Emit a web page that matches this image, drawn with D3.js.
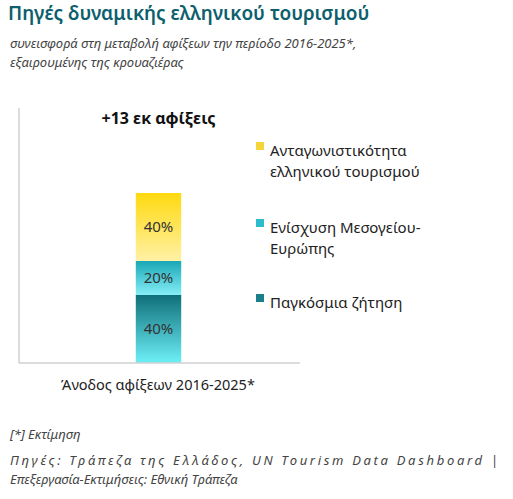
<!DOCTYPE html>
<html><head><meta charset="utf-8">
<script src="https://cdn.jsdelivr.net/npm/d3@7"></script>
<style>
body{margin:0;background:#fff;font-family:"Noto Sans",sans-serif;}
</style></head><body>
<svg id="chart" width="513" height="499"></svg>
<script>
let categories=["Άνοδος αφίξεων 2016-2025*"];
let seriesNames=["Παγκόσμια ζήτηση","Ενίσχυση Μεσογείου-Ευρώπης","Ανταγωνιστικότητα ελληνικού τουρισμού"];
let seriesValues=[40,20,40];
let legendLines=[["Παγκόσμια ζήτηση"],["Ενίσχυση Μεσογείου-","Ευρώπης"],["Ανταγωνιστικότητα","ελληνικού τουρισμού"]];
let grads=[["#0f6f79","#6ef0f8"],["#1aa7b6","#85eef6"],["#ffd90f","#fff1a6"]];
let legendColors=["#1a7f8a","#2cbccb","#f5d63a"];

(function(){
let svg=d3.select("#chart");
let defs=svg.append("defs");
grads.forEach(function(g,i){
  let lg=defs.append("linearGradient").attr("id","g"+i).attr("x1",0).attr("x2",0).attr("y1",0).attr("y2",1);
  lg.append("stop").attr("offset","0%").attr("stop-color",g[0]);
  lg.append("stop").attr("offset","100%").attr("stop-color",g[1]);
});
svg.append("text").attr("x",8).attr("y",20).attr("fill","#0d5f6e").attr("font-size",19).attr("font-weight",600).text("Πηγές δυναμικής ελληνικού τουρισμού");
svg.append("text").attr("x",10).attr("y",48).attr("fill","#444").attr("font-size",13).attr("font-style","italic").text("συνεισφορά στη μεταβολή αφίξεων την περίοδο 2016-2025*,");
svg.append("text").attr("x",10).attr("y",67).attr("fill","#444").attr("font-size",13).attr("font-style","italic").text("εξαιρουμένης της κρουαζιέρας");

let pLeft=19,pRight=300,pTop=108,pBottom=363;
let x=d3.scaleBand().domain(categories).range([pLeft,pRight-2]).padding(0.72);
let y=d3.scaleLinear().domain([0,150]).range([pBottom,pTop]);
let stack=[];let acc=0;
seriesValues.forEach(function(v,i){stack.push({i:i,y0:acc,y1:acc+v});acc+=v;});
svg.append("g").selectAll("rect").data(stack).join("rect")
  .attr("x",x(categories[0])).attr("width",x.bandwidth())
  .attr("y",d=>y(d.y1)).attr("height",d=>y(d.y0)-y(d.y1))
  .attr("fill",d=>"url(#g"+d.i+")");
svg.append("g").selectAll("text").data(stack).join("text")
  .attr("x",x(categories[0])+x.bandwidth()/2).attr("y",d=>y((d.y0+d.y1)/2)+5)
  .attr("text-anchor","middle").attr("font-size",15).attr("fill","#333")
  .text(d=>seriesValues[d.i]+"%");
svg.append("text").attr("x",x(categories[0])+x.bandwidth()/2).attr("y",124).attr("text-anchor","middle")
  .attr("font-size",16).attr("font-weight",700).attr("fill","#111").text("+13 εκ αφίξεις");
svg.append("line").attr("x1",pLeft).attr("x2",pLeft).attr("y1",pTop).attr("y2",pBottom).attr("stroke","#d0d0d0").attr("stroke-width",1.5);
svg.append("line").attr("x1",pLeft).attr("x2",pRight).attr("y1",pBottom).attr("y2",pBottom).attr("stroke","#d0d0d0").attr("stroke-width",1.5);
svg.append("text").attr("x",158).attr("y",390).attr("text-anchor","middle").attr("font-size",14.5).attr("fill","#222").text(categories[0]);

let legY=[303,228,151];
legendLines.forEach(function(lines,i){
  svg.append("rect").attr("x",256).attr("y",legY[i]-9).attr("width",8).attr("height",8).attr("fill",legendColors[i]);
  lines.forEach(function(l,j){
    svg.append("text").attr("x",270).attr("y",legY[i]+5+j*21).attr("font-size",15).attr("fill","#222").text(l);
  });
});

svg.append("text").attr("x",10).attr("y",439).attr("font-size",13).attr("font-style","italic").attr("fill","#444").text("[*] Εκτίμηση");
svg.append("text").attr("x",10).attr("y",465).attr("font-size",13).attr("font-style","italic").attr("fill","#444").attr("textLength",488).text("Πηγές: Τράπεζα της Ελλάδος, UN Tourism Data Dashboard |");
svg.append("text").attr("x",10).attr("y",484).attr("font-size",13).attr("font-style","italic").attr("fill","#444").text("Επεξεργασία-Εκτιμήσεις: Εθνική Τράπεζα");
})();
</script></body></html>
